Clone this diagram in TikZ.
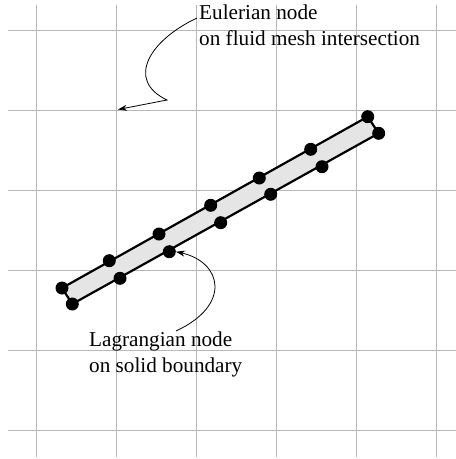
\documentclass[tikz,border=0pt]{standalone}
\usepackage{fontspec}
\setmainfont{Liberation Serif}
\usetikzlibrary{arrows.meta}
\begin{document}
\begin{tikzpicture}[x=1pt,y=-1pt,
  gridline/.style={draw=black!28,line width=1pt},
  dot/.style={circle,fill=black,inner sep=0pt,minimum size=13pt},
  strip/.style={draw=black,fill=black!10,line width=2.2pt,line join=round},
  callout/.style={draw=black,line width=0.8pt,-{Stealth[length=9pt,width=6pt]}},
  label/.style={font=\fontsize{21.2}{26}\selectfont,align=left,inner sep=0pt,anchor=north west}]
\useasboundingbox (0,0) rectangle (456,459);
% grid
\foreach \x in {36,116,196,276,356,436} \draw[gridline] (\x,5) -- (\x,457);
\foreach \y in {30,110,190,270,350,430} \draw[gridline] (8,\y) -- (456,\y);
% strip
\coordinate (c1) at (62,288);
\coordinate (c2) at (367.7,116.7);
\coordinate (c3) at (378.7,133.3);
\coordinate (c4) at (72.3,304);
\draw[strip] (c1) -- (c2) -- (c3) -- (c4) -- cycle;
% upper nodes
\node[dot] (u1) at (62,288) {};
\node[dot] (u2) at (109.3,260.7) {};
\node[dot] (u3) at (159,234) {};
\node[dot] (u4) at (210.7,205.3) {};
\node[dot] (u5) at (259.3,178) {};
\node[dot] (u6) at (310.7,149.3) {};
\node[dot] (u7) at (367.7,116.7) {};
% lower nodes
\node[dot] (l1) at (72.3,304) {};
\node[dot] (l2) at (120,278.3) {};
\node[dot] (l3) at (169.3,251.7) {};
\node[dot] (l4) at (220.7,222.7) {};
\node[dot] (l5) at (270.7,194.3) {};
\node[dot] (l6) at (322,166.7) {};
\node[dot] (l7) at (378.7,133.3) {};
% labels
\node[label] (eul) at (199,5) {Eulerian node\\on fluid mesh intersection};
\node[label] (lag) at (89,332) {Lagrangian node\\on solid boundary};
% callouts
\coordinate (E) at (118,109.5);
\coordinate (ebend) at (167,100);
\draw[callout] (197,18) .. controls (150,40) and (125,80) .. (ebend) -- (E);
\draw[callout] (176,331) .. controls (232,305) and (222,262) .. (l3.east);
\end{tikzpicture}
\end{document}
